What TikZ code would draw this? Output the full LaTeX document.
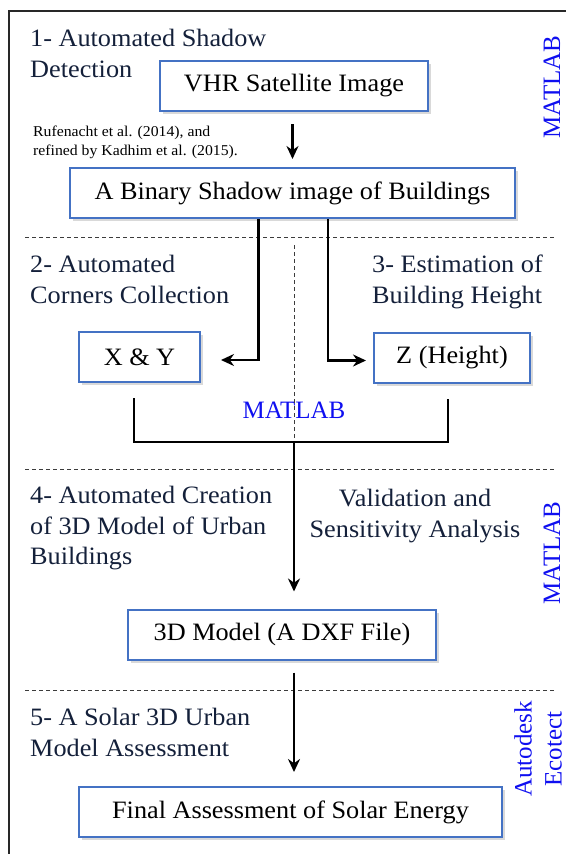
\documentclass[tikz,border=0pt]{standalone}
\usepackage{fontspec}
\setmainfont{Liberation Serif}[FakeStretch=1.05]
\newfontfamily\plainserif{Liberation Serif}
\usepackage{xcolor}
\usepackage{tikz}
\usetikzlibrary{arrows.meta, positioning, calc, shadows}
\definecolor{boxcolor}{RGB}{68,114,196}
\definecolor{stepcolor}{RGB}{20,32,58}
\definecolor{toolcolor}{RGB}{15,15,240}
\definecolor{framecolor}{RGB}{40,40,40}
\definecolor{sepcolor}{RGB}{60,60,60}

\begin{document}
\begin{tikzpicture}[
    x=1pt, y=-1pt,
    box/.style={draw=boxcolor, line width=2pt, fill=white, minimum height=50pt, inner sep=0pt, font=\fontsize{25}{30}\selectfont, drop shadow={shadow xshift=3pt, shadow yshift=-3pt, opacity=0.3}},
    steplabel/.style={anchor=north west, align=left, inner sep=0pt, text=stepcolor, font=\fontsize{25}{30.5}\selectfont},
    toollabel/.style={inner sep=0pt, text=toolcolor, font=\plainserif\fontsize{25}{30}\selectfont},
    arrow/.style={-{Stealth[length=13pt, width=12pt]}, line width=2.2pt},
    link/.style={line width=2.2pt},
    sep/.style={sepcolor, line width=1pt, dash pattern=on 4pt off 3pt}
]
    \useasboundingbox (0,0) rectangle (566,854);

    % Frame
    \draw[framecolor, line width=1.4pt] (9,854) -- (9,11) -- (566,11);

    % Section separators
    \foreach \y in {237,469,690}
        \draw[sep] (25,\y) -- (556,\y);

    % Step 1
    \node[steplabel] (step1) at (30,29) {1- Automated Shadow\\Detection};
    \node[box, minimum width=268pt] (vhr) at (294,86) {VHR Satellite Image};
    \node[anchor=north west, align=left, inner sep=0pt, font=\fontsize{15}{19}\selectfont] (cite) at (33,126) {Rufenacht et al. (2014), and\\refined by Kadhim et al. (2015).};
    \node[box, minimum width=445pt] (bin) at (292.5,193) {A Binary Shadow image of Buildings};
    \node[toollabel, rotate=90] (matlab1) at (552,87) {MATLAB};

    % Steps 2 and 3
    \node[steplabel] (step2) at (30,255) {2- Automated\\Corners Collection};
    \node[steplabel] (step3) at (372,255) {3- Estimation of\\Building Height};
    \node[box, minimum width=121pt] (xy) at (139.5,357) {X \& Y};
    \node[box, minimum width=156pt] (z) at (452,357.5) {Z (Height)};
    \node[toollabel, anchor=base] (matlab2) at (294,418) {MATLAB};
    \coordinate (split) at (294,245);
    \coordinate (join) at (294,442);

    % Step 4
    \node[steplabel] (step4) at (30,486) {4- Automated Creation\\of 3D Model of Urban\\Buildings};
    \node[anchor=north, align=center, inner sep=0pt, text=stepcolor, font=\fontsize{25}{31}\selectfont] (valid) at (415,489) {Validation and\\Sensitivity Analysis};
    \node[box, minimum width=308pt] (model) at (282,634.5) {3D Model (A DXF File)};
    \node[toollabel, rotate=90] (matlab3) at (552,553) {MATLAB};

    % Step 5
    \node[steplabel] (step5) at (30,708) {5- A Solar 3D Urban\\Model Assessment};
    \node[box, minimum width=423pt] (final) at (290.5,812) {Final Assessment of Solar Energy};
    \node[toollabel, rotate=90, align=center] (ecotect) at (538,749) {Autodesk\\Ecotect};

    % Connectors
    \draw[arrow, shorten <=12pt, shorten >=8pt] (vhr.south -| bin.north) -- (bin.north);
    \draw[arrow, shorten >=20pt] ([xshift=-34pt]bin.south) |- ([yshift=-3pt]xy.east);
    \draw[arrow, shorten >=7pt] ([xshift=35.5pt]bin.south) |- ([yshift=-3pt]z.west);
    \draw[sep, line width=0.7pt] (split) -- (294,470);
    \draw[link] ([xshift=-5.5pt,yshift=-15pt]xy.south) |- (join) -| ([xshift=-4pt,yshift=-15pt]z.south);
    \draw[arrow, shorten >=17pt] (join) -- (join |- model.north);
    \draw[arrow, shorten <=12pt, shorten >=14pt] (model.south -| join) -- (join |- final.north);
\end{tikzpicture}
\end{document}
